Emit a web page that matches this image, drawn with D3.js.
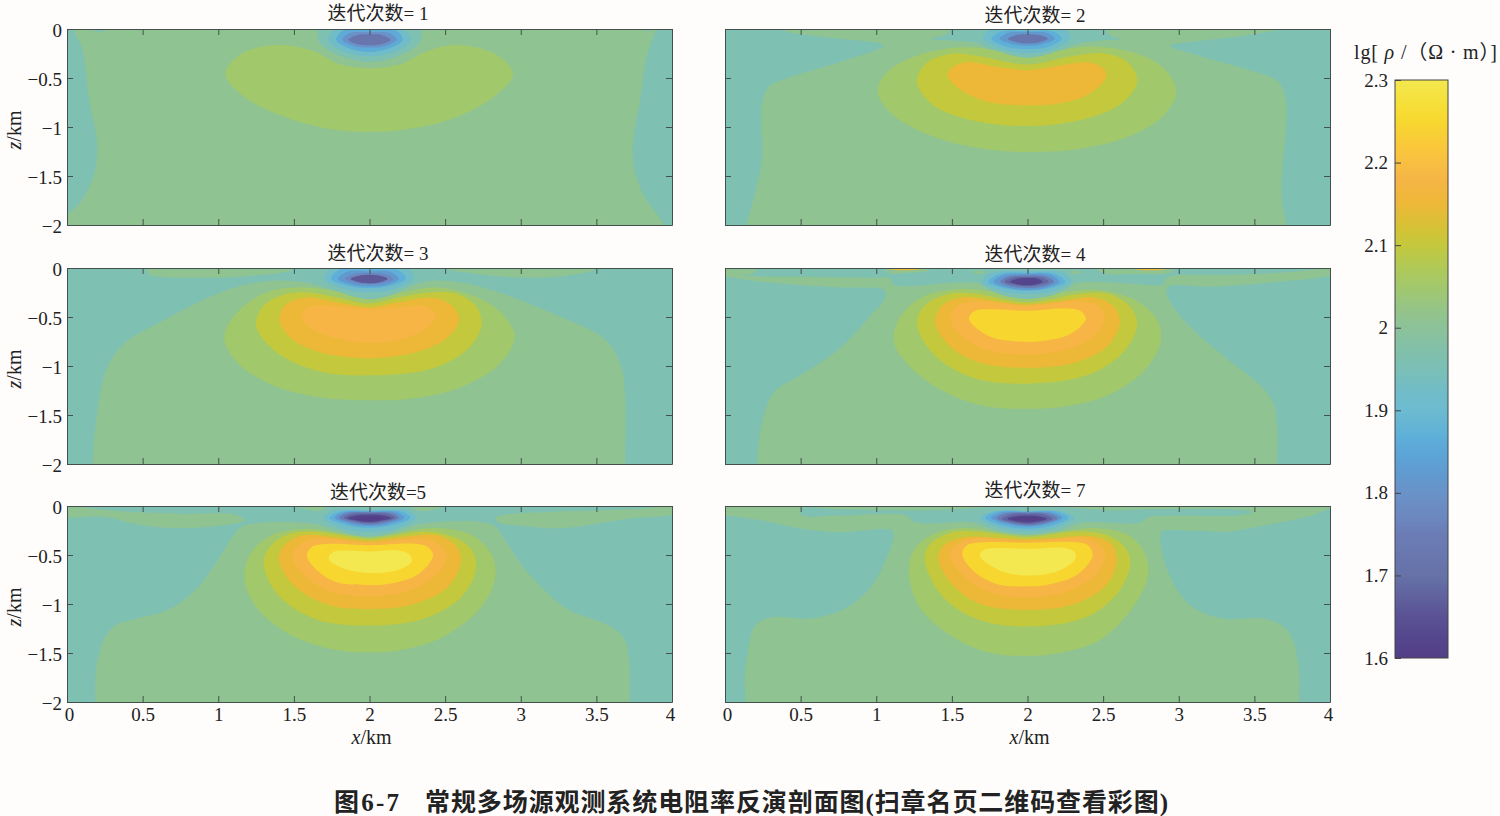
<!DOCTYPE html>
<html>
<head>
<meta charset="utf-8">
<script src="https://cdn.jsdelivr.net/npm/d3@7"></script>
<style>
body { margin: 0; background: #fefdfc; }
text { font-family: "Liberation Serif", "Noto Sans CJK SC", serif; fill: #222; }
</style>
</head>
<body>
<div id="chart"></div>
<script>
const panelTitles = ["迭代次数= 1", "迭代次数= 2", "迭代次数= 3", "迭代次数= 4", "迭代次数=5", "迭代次数= 7"];
const xTicks = [0, 0.5, 1, 1.5, 2, 2.5, 3, 3.5, 4];
const zTicks = [0, -0.5, -1, -1.5, -2];
const barTicks = [1.6, 1.7, 1.8, 1.9, 2, 2.1, 2.2, 2.3];

// colour bar, value -> colour
const barValues = [1.6, 1.62, 1.65, 1.67, 1.7, 1.75, 1.77, 1.8, 1.82, 1.85, 1.87, 1.9, 1.92, 1.95, 1.97, 2, 2.02, 2.05, 2.07, 2.1, 2.12, 2.15, 2.18, 2.2, 2.22, 2.25, 2.27, 2.3];
const barColors = ["#533e87", "#54458c", "#5a5194", "#5f5f9c", "#6672a8", "#6b7cb5", "#6c87bf", "#6a92c8", "#6199cf", "#5ca6d8", "#5fb0d8", "#6cbbd0", "#70bcc9", "#7bbfb6", "#80c0ab", "#8cc299", "#94c48a", "#a2c86c", "#aec95a", "#c4c83c", "#d5c235", "#edb838", "#f6b545", "#f8bf42", "#f9c83a", "#f7d72f", "#f6df38", "#f3e84f"];

// every panel: base level, then [level, outline in km] painted in this order
const panelBase = [1.96, 1.96, 1.96, 1.96, 1.96, 2.01];

const bands1 = [
  [2.01, [[0.044,0.1],[0.044,0],[0.1,-0.2],[0.147,-0.72],[0.2,-1.19],[0.177,-1.5],[0.088,-1.77],[-0.05,-1.98],[-0.05,-2.1],[3.97,-2.1],[3.95,-2],[3.805,-1.67],[3.74,-1.29],[3.79,-0.72],[3.835,-0.27],[3.894,0],[3.894,0.1],[2,0.1]]],
  [1.96, [[0.17,0],[0.21,-0.035],[0.25,0],[0.21,0.05]]],
  [1.96, [[3.8,0],[3.84,-0.02],[3.88,0],[3.84,0.05]]],
  [2.05, [[1.047,-0.46],[1.15,-0.256],[1.386,-0.164],[1.62,-0.22],[1.8,-0.358],[2,-0.4],[2.21,-0.358],[2.36,-0.24],[2.566,-0.164],[2.83,-0.256],[2.95,-0.46],[2.8,-0.716],[2.507,-0.937],[2.21,-1.03],[2,-1.05],[1.74,-1.02],[1.445,-0.9],[1.18,-0.7]]],
  [1.96, [[1.66,-0.08],[1.67,-0.14],[1.8,-0.27],[2,-0.335],[2.2,-0.27],[2.33,-0.14],[2.345,-0.05],[2.33,0.05],[2,0.08],[1.67,0.05]]],
  [1.92, [[1.73,-0.12],[1.76,-0.02],[2,0.02],[2.24,-0.02],[2.27,-0.12],[2.17,-0.23],[2,-0.28],[1.83,-0.23]]],
  [1.86, [[1.78,-0.11],[1.82,-0.02],[2,-0.01],[2.18,-0.02],[2.22,-0.11],[2.13,-0.2],[2,-0.235],[1.87,-0.2]]],
  [1.8, [[1.82,-0.11],[1.87,-0.04],[2,-0.03],[2.13,-0.04],[2.18,-0.11],[2.1,-0.175],[2,-0.19],[1.9,-0.175]]],
  [1.72, [[1.86,-0.11],[1.92,-0.06],[2,-0.055],[2.08,-0.06],[2.14,-0.11],[2.08,-0.155],[2,-0.165],[1.92,-0.155]]]
];

const bands2 = [
  [2.01, [[0.38,0.07],[0.38,0],[0.64,-0.08],[1.02,-0.147],[1.05,-0.17],[0.766,-0.334],[0.406,-0.505],[0.29,-0.59],[0.244,-0.78],[0.244,-1.32],[0.2,-1.67],[0.144,-2],[0.144,-2.1],[3.72,-2.1],[3.71,-2],[3.68,-1.67],[3.71,-0.98],[3.71,-0.744],[3.66,-0.54],[3.465,-0.42],[3.157,-0.283],[2.94,-0.17],[3.08,-0.13],[3.33,-0.09],[3.59,-0.027],[3.67,0],[3.67,0.07],[2.52,0.07],[2.52,0],[2.54,-0.06],[2.62,-0.1],[2.46,-0.12],[2.31,-0.16],[2.155,-0.283],[2,-0.317],[1.845,-0.283],[1.666,-0.147],[1.51,-0.12],[1.36,-0.1],[1.46,-0.055],[1.49,0],[1.49,0.07]]],
  [2.05, [[1.01,-0.64],[1.075,-0.437],[1.28,-0.266],[1.537,-0.188],[1.743,-0.205],[2,-0.293],[2.26,-0.205],[2.46,-0.18],[2.72,-0.25],[2.9,-0.4],[2.985,-0.64],[2.9,-0.88],[2.69,-1.085],[2.36,-1.22],[2,-1.256],[1.635,-1.205],[1.33,-1.07],[1.1,-0.863]]],
  [2.1, [[1.27,-0.54],[1.33,-0.35],[1.51,-0.25],[1.666,-0.273],[2,-0.362],[2.31,-0.273],[2.515,-0.25],[2.67,-0.35],[2.725,-0.54],[2.62,-0.76],[2.385,-0.915],[2,-0.99],[1.635,-0.93],[1.38,-0.78]]],
  [2.15, [[1.47,-0.47],[1.525,-0.37],[1.615,-0.34],[1.795,-0.386],[2,-0.42],[2.205,-0.375],[2.385,-0.34],[2.5,-0.4],[2.52,-0.488],[2.41,-0.66],[2.205,-0.76],[2,-0.778],[1.743,-0.744],[1.563,-0.625]]],
  [1.96, [[1.68,-0.1],[1.72,-0.02],[2,0.05],[2.28,-0.02],[2.31,-0.1],[2.2,-0.22],[2,-0.29],[1.8,-0.22]]],
  [1.92, [[1.705,-0.09],[1.76,0],[2,0.02],[2.24,0],[2.283,-0.09],[2.2,-0.19],[2,-0.25],[1.8,-0.19]]],
  [1.87, [[1.763,-0.1],[1.82,-0.03],[2,-0.02],[2.18,-0.03],[2.226,-0.1],[2.15,-0.175],[2,-0.205],[1.85,-0.175]]],
  [1.82, [[1.815,-0.1],[1.87,-0.04],[2,-0.03],[2.13,-0.04],[2.18,-0.1],[2.1,-0.155],[2,-0.17],[1.9,-0.155]]],
  [1.72, [[1.87,-0.1],[1.93,-0.06],[2.03,-0.055],[2.09,-0.065],[2.134,-0.1],[2.08,-0.135],[2,-0.147],[1.93,-0.135]]]
];

const bands3 = [
  [2.01, [[0.526,0.05],[0.526,0],[0.54,-0.06],[0.886,-0.1],[1.22,-0.08],[1.49,-0.01],[1.49,0.05]]],
  [2.01, [[2.516,0.05],[2.516,0],[2.71,-0.06],[3.07,-0.1],[3.38,-0.06],[3.5,0],[3.5,0.05]]],
  [2.01, [[0.17,-2],[0.19,-1.6],[0.257,-1.05],[0.372,-0.78],[0.655,-0.52],[1.015,-0.25],[1.3,-0.137],[1.58,-0.147],[1.735,-0.215],[2,-0.328],[2.195,-0.232],[2.375,-0.137],[2.6,-0.147],[2.89,-0.266],[3.22,-0.47],[3.555,-0.727],[3.66,-0.98],[3.69,-1.32],[3.69,-2],[3.69,-2.1],[0.17,-2.1]]],
  [2.05, [[1.04,-0.71],[1.116,-0.47],[1.32,-0.25],[1.55,-0.2],[1.76,-0.232],[2,-0.32],[2.22,-0.25],[2.45,-0.2],[2.76,-0.334],[2.915,-0.54],[2.96,-0.71],[2.86,-0.98],[2.6,-1.22],[2.3,-1.33],[2,-1.35],[1.656,-1.317],[1.35,-1.19],[1.116,-0.95]]],
  [2.1, [[1.25,-0.59],[1.3,-0.386],[1.45,-0.266],[1.6,-0.25],[1.785,-0.3],[2,-0.362],[2.195,-0.3],[2.4,-0.25],[2.58,-0.266],[2.71,-0.4],[2.74,-0.59],[2.66,-0.81],[2.43,-1.017],[2.015,-1.095],[1.656,-1.05],[1.375,-0.846]]],
  [2.15, [[1.405,-0.52],[1.45,-0.37],[1.58,-0.3],[1.785,-0.35],[2,-0.4],[2.195,-0.35],[2.43,-0.307],[2.555,-0.4],[2.59,-0.54],[2.5,-0.727],[2.3,-0.863],[2,-0.92],[1.68,-0.863],[1.476,-0.71]]],
  [2.18, [[1.553,-0.505],[1.6,-0.4],[1.73,-0.386],[2,-0.42],[2.195,-0.4],[2.36,-0.386],[2.44,-0.47],[2.4,-0.59],[2.246,-0.71],[2,-0.765],[1.76,-0.71],[1.605,-0.607]]],
  [1.96, [[1.68,-0.1],[1.72,0],[2,0.05],[2.28,0],[2.31,-0.1],[2.2,-0.24],[2,-0.31],[1.8,-0.24]]],
  [1.92, [[1.7,-0.11],[1.75,0],[2,0.03],[2.25,0],[2.29,-0.11],[2.18,-0.21],[2,-0.25],[1.82,-0.21]]],
  [1.87, [[1.746,-0.11],[1.8,-0.02],[2,-0.01],[2.19,-0.02],[2.24,-0.11],[2.14,-0.18],[2,-0.205],[1.85,-0.18]]],
  [1.82, [[1.79,-0.11],[1.85,-0.04],[2,-0.034],[2.14,-0.04],[2.195,-0.11],[2.12,-0.17],[2,-0.19],[1.88,-0.17]]],
  [1.77, [[1.835,-0.11],[1.9,-0.06],[2,-0.05],[2.1,-0.06],[2.16,-0.11],[2.1,-0.15],[2,-0.165],[1.9,-0.15]]],
  [1.66, [[1.875,-0.11],[1.93,-0.08],[2,-0.07],[2.07,-0.08],[2.12,-0.11],[2.07,-0.145],[2,-0.157],[1.93,-0.145]]]
];

const bands4 = [
  [2.01, [[-0.1,-0.02],[0.15,-0.08],[0.51,-0.09],[0.985,-0.1],[1.09,-0.1],[1.113,-0.17],[1.537,-0.147],[1.69,-0.157],[2,-0.328],[2.31,-0.157],[2.565,-0.147],[2.77,-0.17],[2.9,-0.164],[2.92,-0.1],[3.34,-0.07],[3.72,-0.044],[3.94,-0.01],[4.05,0],[4.05,-0.05],[3.6,-0.147],[3.21,-0.19],[2.925,-0.198],[2.94,-0.334],[3.08,-0.607],[3.31,-0.915],[3.52,-1.17],[3.62,-1.36],[3.65,-1.6],[3.65,-2],[3.65,-2.1],[0.213,-2.1],[0.213,-2],[0.226,-1.73],[0.265,-1.46],[0.33,-1.256],[0.509,-1.085],[0.766,-0.81],[0.97,-0.47],[1.06,-0.3],[1.054,-0.225],[0.766,-0.198],[0.457,-0.17],[0.15,-0.12],[-0.1,-0.04]]],
  [2.01, [[-0.1,0.03],[0.2,0.03],[0.2,-0.04],[0.1,-0.07],[-0.1,-0.05]]],
  [2.01, [[1.05,0.03],[1.35,0.03],[1.35,-0.02],[1.2,-0.05],[1.08,-0.05]]],
  [2.01, [[1.63,-0.04],[1.68,-0.025],[1.72,-0.045],[1.68,-0.06]]],
  [2.01, [[2.28,-0.04],[2.32,-0.025],[2.36,-0.045],[2.32,-0.06]]],
  [2.01, [[2.43,0.03],[2.95,0.03],[2.95,-0.04],[2.7,-0.06],[2.5,-0.05]]],
  [2.15, [[1.08,0.02],[1.3,0.02],[1.3,-0.004],[1.08,-0.004]]],
  [2.15, [[2.7,0.02],[2.93,0.02],[2.93,-0.004],[2.7,-0.004]]],
  [2.05, [[1.118,-0.76],[1.15,-0.52],[1.3,-0.3],[1.56,-0.215],[1.77,-0.24],[2,-0.317],[2.23,-0.25],[2.46,-0.225],[2.72,-0.334],[2.86,-0.54],[2.88,-0.76],[2.77,-1.05],[2.54,-1.29],[2.26,-1.41],[2,-1.437],[1.72,-1.41],[1.46,-1.27],[1.23,-1.017]]],
  [2.1, [[1.27,-0.573],[1.32,-0.386],[1.48,-0.266],[1.64,-0.26],[2,-0.35],[2.36,-0.26],[2.54,-0.266],[2.68,-0.4],[2.725,-0.573],[2.64,-0.846],[2.41,-1.085],[2,-1.18],[1.64,-1.12],[1.38,-0.88]]],
  [2.15, [[1.39,-0.556],[1.435,-0.386],[1.563,-0.3],[1.795,-0.34],[2,-0.375],[2.205,-0.34],[2.44,-0.3],[2.565,-0.386],[2.61,-0.556],[2.53,-0.795],[2.31,-0.966],[2,-1.017],[1.69,-0.966],[1.486,-0.795]]],
  [2.18, [[1.49,-0.52],[1.537,-0.386],[1.666,-0.34],[2,-0.386],[2.31,-0.34],[2.463,-0.386],[2.51,-0.52],[2.41,-0.727],[2.2,-0.853],[2,-0.88],[1.743,-0.84],[1.563,-0.693]]],
  [2.25, [[1.614,-0.52],[1.653,-0.437],[1.77,-0.42],[2,-0.437],[2.23,-0.413],[2.347,-0.437],[2.385,-0.52],[2.28,-0.676],[2.1,-0.744],[1.95,-0.75],[1.743,-0.693]]],
  [1.96, [[1.68,-0.14],[1.74,-0.02],[2,0.05],[2.26,-0.02],[2.31,-0.14],[2.18,-0.27],[2,-0.31],[1.82,-0.27]]],
  [1.92, [[1.7,-0.14],[1.76,-0.05],[2,-0.03],[2.24,-0.05],[2.29,-0.14],[2.16,-0.24],[2,-0.266],[1.84,-0.24]]],
  [1.87, [[1.74,-0.14],[1.82,-0.06],[2,-0.05],[2.18,-0.06],[2.25,-0.14],[2.14,-0.21],[2,-0.232],[1.86,-0.21]]],
  [1.82, [[1.776,-0.14],[1.85,-0.07],[2,-0.06],[2.15,-0.07],[2.21,-0.14],[2.12,-0.205],[2,-0.225],[1.88,-0.205]]],
  [1.75, [[1.82,-0.14],[1.88,-0.085],[2,-0.077],[2.12,-0.085],[2.175,-0.14],[2.1,-0.19],[2,-0.205],[1.9,-0.19]]],
  [1.68, [[1.85,-0.14],[1.91,-0.098],[2,-0.09],[2.09,-0.098],[2.14,-0.14],[2.08,-0.172],[2,-0.184],[1.91,-0.172]]],
  [1.62, [[1.885,-0.14],[1.94,-0.108],[2,-0.102],[2.06,-0.108],[2.1,-0.14],[2.05,-0.168],[2,-0.177],[1.94,-0.168]]]
];

const bands5 = [
  [2.01, [[0.187,-2],[0.193,-1.665],[0.244,-1.36],[0.32,-1.22],[0.45,-1.153],[0.655,-1.07],[0.834,-0.88],[0.988,-0.573],[1.117,-0.266],[1.173,-0.198],[1.63,-0.18],[1.785,-0.25],[2,-0.317],[2.195,-0.25],[2.35,-0.18],[2.81,-0.19],[2.89,-0.334],[3.017,-0.625],[3.17,-0.88],[3.325,-1.07],[3.58,-1.22],[3.685,-1.36],[3.718,-1.6],[3.72,-2],[3.72,-2.1],[0.187,-2.1]]],
  [2.01, [[-0.05,-0.095],[0.244,-0.11],[0.5,-0.198],[0.757,-0.225],[1.014,-0.198],[1.17,-0.147],[1.117,-0.09],[0.757,-0.078],[0.372,-0.055],[0.14,-0.02],[-0.05,0.03]]],
  [2.01, [[2.83,-0.13],[2.89,-0.09],[3.2,-0.06],[3.58,-0.044],[3.84,-0.02],[4.05,0.02],[4.05,-0.06],[3.7,-0.13],[3.275,-0.225],[3.017,-0.205],[2.86,-0.17]]],
  [2.01, [[1.53,-0.01],[1.6,-0.04],[1.66,-0.05],[1.71,-0.02],[1.62,0.03]]],
  [2.01, [[2.28,-0.02],[2.34,-0.05],[2.42,-0.04],[2.48,-0.01],[2.36,0.03]]],
  [2.05, [[1.173,-0.727],[1.22,-0.47],[1.35,-0.3],[1.58,-0.232],[1.785,-0.273],[2,-0.317],[2.195,-0.273],[2.43,-0.225],[2.68,-0.3],[2.81,-0.505],[2.83,-0.727],[2.745,-1.017],[2.5,-1.324],[2.245,-1.46],[2,-1.495],[1.733,-1.454],[1.45,-1.29],[1.245,-1.017]]],
  [2.1, [[1.3,-0.59],[1.35,-0.4],[1.476,-0.283],[1.63,-0.26],[1.835,-0.3],[2,-0.334],[2.17,-0.3],[2.375,-0.26],[2.555,-0.317],[2.67,-0.437],[2.705,-0.625],[2.606,-0.93],[2.35,-1.153],[2,-1.22],[1.656,-1.16],[1.4,-0.915]]],
  [2.15, [[1.4,-0.54],[1.438,-0.4],[1.553,-0.3],[1.76,-0.317],[2,-0.358],[2.22,-0.317],[2.45,-0.3],[2.567,-0.4],[2.606,-0.54],[2.516,-0.83],[2.27,-1.01],[2,-1.05],[1.733,-1.01],[1.5,-0.81]]],
  [2.18, [[1.49,-0.52],[1.528,-0.4],[1.63,-0.334],[2,-0.375],[2.35,-0.334],[2.465,-0.4],[2.51,-0.52],[2.425,-0.727],[2.22,-0.88],[2,-0.92],[1.76,-0.88],[1.58,-0.727]]],
  [2.25, [[1.585,-0.505],[1.617,-0.42],[1.733,-0.386],[2,-0.4],[2.3,-0.386],[2.387,-0.42],[2.42,-0.505],[2.325,-0.693],[2.143,-0.79],[2,-0.805],[1.785,-0.778],[1.656,-0.66]]],
  [2.3, [[1.73,-0.54],[1.76,-0.47],[1.86,-0.454],[2,-0.464],[2.195,-0.454],[2.27,-0.505],[2.277,-0.573],[2.17,-0.66],[2,-0.683],[1.835,-0.64]]],
  [1.96, [[1.67,-0.12],[1.72,-0.03],[2,-0.01],[2.28,-0.03],[2.33,-0.12],[2.2,-0.25],[2,-0.3],[1.8,-0.25]]],
  [1.92, [[1.695,-0.12],[1.76,-0.05],[2,-0.04],[2.26,-0.05],[2.31,-0.12],[2.18,-0.23],[2,-0.266],[1.82,-0.23]]],
  [1.87, [[1.734,-0.12],[1.8,-0.06],[2,-0.05],[2.22,-0.06],[2.27,-0.12],[2.14,-0.2],[2,-0.225],[1.86,-0.2]]],
  [1.82, [[1.77,-0.12],[1.83,-0.065],[2,-0.058],[2.18,-0.065],[2.23,-0.12],[2.12,-0.185],[2,-0.205],[1.88,-0.185]]],
  [1.75, [[1.8,-0.12],[1.86,-0.07],[2,-0.065],[2.14,-0.07],[2.195,-0.12],[2.1,-0.172],[2,-0.19],[1.9,-0.172]]],
  [1.68, [[1.83,-0.12],[1.89,-0.08],[2,-0.075],[2.11,-0.08],[2.17,-0.12],[2.08,-0.16],[2,-0.177],[1.92,-0.16]]],
  [1.62, [[1.854,-0.125],[1.92,-0.095],[2,-0.09],[2.08,-0.095],[2.144,-0.125],[2.06,-0.152],[2,-0.164],[1.93,-0.152]]],
  [1.6, [[1.9,-0.13],[1.95,-0.112],[2,-0.11],[2.05,-0.112],[2.09,-0.13],[2.05,-0.145],[2,-0.15],[1.95,-0.145]]]
];

const bands6 = [
  [1.96, [[-0.1,-0.09],[0,-0.096],[0.25,-0.147],[0.51,-0.232],[0.766,-0.266],[1.09,-0.24],[1.115,-0.284],[1.075,-0.505],[0.972,-0.81],[0.79,-1.05],[0.56,-1.147],[0.303,-1.137],[0.2,-1.22],[0.15,-1.495],[0.13,-1.77],[0.136,-2],[0.136,-2.1],[-0.1,-2.1]]],
  [1.96, [[2.885,-0.26],[3.08,-0.25],[3.337,-0.26],[3.594,-0.19],[3.85,-0.113],[4.05,-0.044],[4.05,-2.1],[3.79,-2.1],[3.795,-2],[3.79,-1.6],[3.72,-1.27],[3.57,-1.153],[3.286,-1.147],[3.08,-1.017],[2.95,-0.744],[2.88,-0.4],[2.88,-0.3]]],
  [1.96, [[0.504,-0.027],[0.504,-0.09],[0.766,-0.096],[1.2,-0.096],[1.254,-0.164],[1.64,-0.17],[1.795,-0.25],[2,-0.293],[2.205,-0.25],[2.36,-0.17],[2.745,-0.17],[2.8,-0.113],[3.03,-0.1],[3.39,-0.096],[3.49,-0.06],[3.36,-0.034],[2.82,-0.034],[2.565,-0.044],[2.31,-0.02],[2,0.01],[1.666,-0.02],[1.28,-0.044],[0.766,-0.034]]],
  [2.05, [[1.216,-0.66],[1.254,-0.437],[1.383,-0.283],[1.59,-0.225],[1.795,-0.266],[2,-0.3],[2.205,-0.266],[2.437,-0.225],[2.67,-0.3],[2.77,-0.47],[2.8,-0.676],[2.72,-0.983],[2.49,-1.358],[2.23,-1.495],[2,-1.53],[1.743,-1.495],[1.51,-1.34],[1.28,-1.017]]],
  [2.1, [[1.32,-0.54],[1.357,-0.386],[1.51,-0.266],[1.666,-0.26],[2,-0.317],[2.335,-0.26],[2.53,-0.3],[2.643,-0.42],[2.68,-0.573],[2.6,-0.88],[2.385,-1.136],[2,-1.23],[1.666,-1.153],[1.435,-0.915]]],
  [2.15, [[1.41,-0.54],[1.447,-0.4],[1.59,-0.317],[1.795,-0.324],[2,-0.34],[2.205,-0.324],[2.437,-0.31],[2.553,-0.386],[2.59,-0.54],[2.527,-0.795],[2.31,-1],[2,-1.058],[1.69,-1],[1.51,-0.81]]],
  [2.18, [[1.486,-0.505],[1.525,-0.4],[1.64,-0.334],[2,-0.362],[2.36,-0.324],[2.475,-0.396],[2.515,-0.505],[2.437,-0.727],[2.23,-0.887],[2,-0.932],[1.77,-0.887],[1.59,-0.727]]],
  [2.25, [[1.568,-0.488],[1.6,-0.4],[1.717,-0.37],[2,-0.375],[2.31,-0.37],[2.4,-0.4],[2.43,-0.505],[2.335,-0.693],[2.155,-0.795],[2,-0.82],[1.795,-0.795],[1.64,-0.66]]],
  [2.3, [[1.684,-0.505],[1.717,-0.444],[1.845,-0.43],[2,-0.437],[2.26,-0.43],[2.31,-0.47],[2.317,-0.54],[2.205,-0.66],[2,-0.71],[1.82,-0.66]]],
  [1.92, [[1.686,-0.12],[1.76,-0.06],[2,-0.05],[2.24,-0.06],[2.308,-0.12],[2.18,-0.225],[2,-0.26],[1.82,-0.225]]],
  [1.87, [[1.72,-0.12],[1.79,-0.06],[2,-0.055],[2.2,-0.06],[2.27,-0.12],[2.15,-0.205],[2,-0.232],[1.85,-0.205]]],
  [1.82, [[1.758,-0.12],[1.82,-0.068],[2,-0.06],[2.17,-0.068],[2.23,-0.12],[2.12,-0.19],[2,-0.21],[1.88,-0.19]]],
  [1.75, [[1.795,-0.125],[1.85,-0.076],[2,-0.068],[2.14,-0.076],[2.2,-0.125],[2.1,-0.18],[2,-0.198],[1.9,-0.18]]],
  [1.68, [[1.83,-0.13],[1.89,-0.086],[2,-0.078],[2.11,-0.086],[2.167,-0.13],[2.08,-0.17],[2,-0.184],[1.92,-0.17]]],
  [1.62, [[1.866,-0.13],[1.93,-0.102],[2,-0.096],[2.07,-0.102],[2.13,-0.13],[2.07,-0.158],[2,-0.17],[1.93,-0.158]]],
  [1.58, [[1.897,-0.132],[1.95,-0.116],[2,-0.112],[2.05,-0.116],[2.1,-0.132],[2.05,-0.146],[2,-0.15],[1.95,-0.146]]]
];

const allBands = [bands1, bands2, bands3, bands4, bands5, bands6];

const panelW = 605, panelH = 196;
const panelLefts = [67, 725];
const panelTops = [29, 268, 506];
const titleCentres = [378, 1035];
const titleYs = [20, 22, 260, 261, 499, 497];

const svg = d3.select("#chart").append("svg").attr("width", 1500).attr("height", 816).style("display", "block");
const defs = svg.append("defs");

const bandColor = d3.scaleLinear().domain(barValues).range(barColors).clamp(true);
const x = d3.scaleLinear().domain([0, 4]).range([0, panelW]);
const z = d3.scaleLinear().domain([0, -2]).range([0, panelH]);
const outline = d3.line().x(d => x(d[0])).y(d => z(d[1])).curve(d3.curveCatmullRomClosed.alpha(0.5));
const tickFmt = d3.format("~g");

function drawPanel(i){
    const col = i % 2, row = Math.floor(i / 2);
    const g = svg.append("g").attr("transform", "translate(" + panelLefts[col] + "," + panelTops[row] + ")");

    defs.append("clipPath").attr("id", "clip" + i)
    .append("rect").attr("width", panelW).attr("height", panelH);

    const area = g.append("g").attr("clip-path", "url(#clip" + i + ")");
    area.append("rect")
    .attr("width", panelW)
    .attr("height", panelH)
    .style("fill", bandColor(panelBase[i]));
    area.selectAll("path")
    .data(allBands[i])
    .enter().append("path")
    .attr("d", d => outline(d[1]))
    .style("fill", d => bandColor(d[0]));

    // all four sides carry inward ticks, labels only on the outer ones
    const bottom = d3.axisBottom(x).tickValues(xTicks).tickSizeInner(-6).tickSizeOuter(0).tickPadding(6)
    .tickFormat(row === 2 ? tickFmt : "");
    const top = d3.axisTop(x).tickValues(xTicks).tickSizeInner(-6).tickSizeOuter(0).tickFormat("");
    const left = d3.axisLeft(z).tickValues(zTicks).tickSizeInner(-6).tickSizeOuter(0).tickPadding(5)
    .tickFormat(col === 0 ? tickFmt : "");
    const right = d3.axisRight(z).tickValues(zTicks).tickSizeInner(-6).tickSizeOuter(0).tickFormat("");

    const bottomG = g.append("g").attr("class", "axis").attr("transform", "translate(0," + panelH + ")").call(bottom);
    g.append("g").attr("class", "axis").call(top);
    const leftG = g.append("g").attr("class", "axis").call(left);
    g.append("g").attr("class", "axis").attr("transform", "translate(" + panelW + ",0)").call(right);
    g.selectAll(".axis text").style("font-size", "19px").style("font-family", null);
    g.selectAll(".axis path, .axis line").style("stroke", "#44504c");

    // end labels sit a little inside the frame in the original
    bottomG.selectAll("text").attr("x", d => d === 0 ? 2 : d === 4 ? -2 : 0);
    leftG.selectAll("text").attr("dy", "0.42em");

    svg.append("text")
    .attr("x", titleCentres[col])
    .attr("y", titleYs[i])
    .attr("text-anchor", "middle")
    .style("font-size", "19px")
    .text(panelTitles[i]);

    if (col === 0) {
        const lab = svg.append("text")
        .attr("transform", "translate(21," + (panelTops[row] + panelH / 2 + 3) + ") rotate(-90)")
        .attr("text-anchor", "middle")
        .style("font-size", "20px");
        lab.append("tspan").style("font-style", "italic").text("z");
        lab.append("tspan").text("/km");
    }
    if (row === 2) {
        const lab = svg.append("text")
        .attr("x", panelLefts[col] + panelW / 2 + 2)
        .attr("y", 744)
        .attr("text-anchor", "middle")
        .style("font-size", "20px");
        lab.append("tspan").style("font-style", "italic").text("x");
        lab.append("tspan").text("/km");
    }
}

d3.range(6).forEach(drawPanel);

// colour bar
const barX = 1395, barTop = 80, barW = 53, barH = 578;
const barScale = d3.scaleLinear().domain([1.6, 2.3]).range([barH, 0]);
const grad = defs.append("linearGradient").attr("id", "barGrad").attr("x1", 0).attr("y1", 1).attr("x2", 0).attr("y2", 0);
grad.selectAll("stop")
.data(barValues)
.enter().append("stop")
.attr("offset", d => (d - 1.6) / 0.7)
.attr("stop-color", (d, i) => barColors[i]);

const bar = svg.append("g").attr("transform", "translate(" + barX + "," + barTop + ")");
bar.append("rect")
.attr("width", barW)
.attr("height", barH)
.style("fill", "url(#barGrad)")
.style("stroke", "#444")
.style("stroke-width", 1);
const barAxis = bar.append("g").attr("class", "axis")
.call(d3.axisLeft(barScale).tickValues(barTicks).tickSizeInner(-6).tickSizeOuter(0).tickPadding(7).tickFormat(tickFmt));
barAxis.selectAll("text").style("font-size", "19px").style("font-family", null);
barAxis.selectAll("line").style("stroke", "#444");
barAxis.select("path").remove();

const barLabel = svg.append("text")
.attr("x", 1354)
.attr("y", 59)
.attr("textLength", 143)
.attr("lengthAdjust", "spacing")
.style("font-size", "20px");
barLabel.append("tspan").text("lg[ ");
barLabel.append("tspan").style("font-style", "italic").text("ρ");
barLabel.append("tspan").text(" /（Ω · m）]");

// caption
svg.append("text")
.attr("x", 334)
.attr("y", 811)
.attr("textLength", 65)
.attr("lengthAdjust", "spacing")
.style("font-size", "25px")
.style("font-weight", "bold")
.text("图6-7");
svg.append("text")
.attr("x", 425)
.attr("y", 811)
.attr("textLength", 743)
.attr("lengthAdjust", "spacing")
.style("font-size", "25px")
.style("font-weight", "bold")
.text("常规多场源观测系统电阻率反演剖面图(扫章名页二维码查看彩图)");
</script>
</body>
</html>
